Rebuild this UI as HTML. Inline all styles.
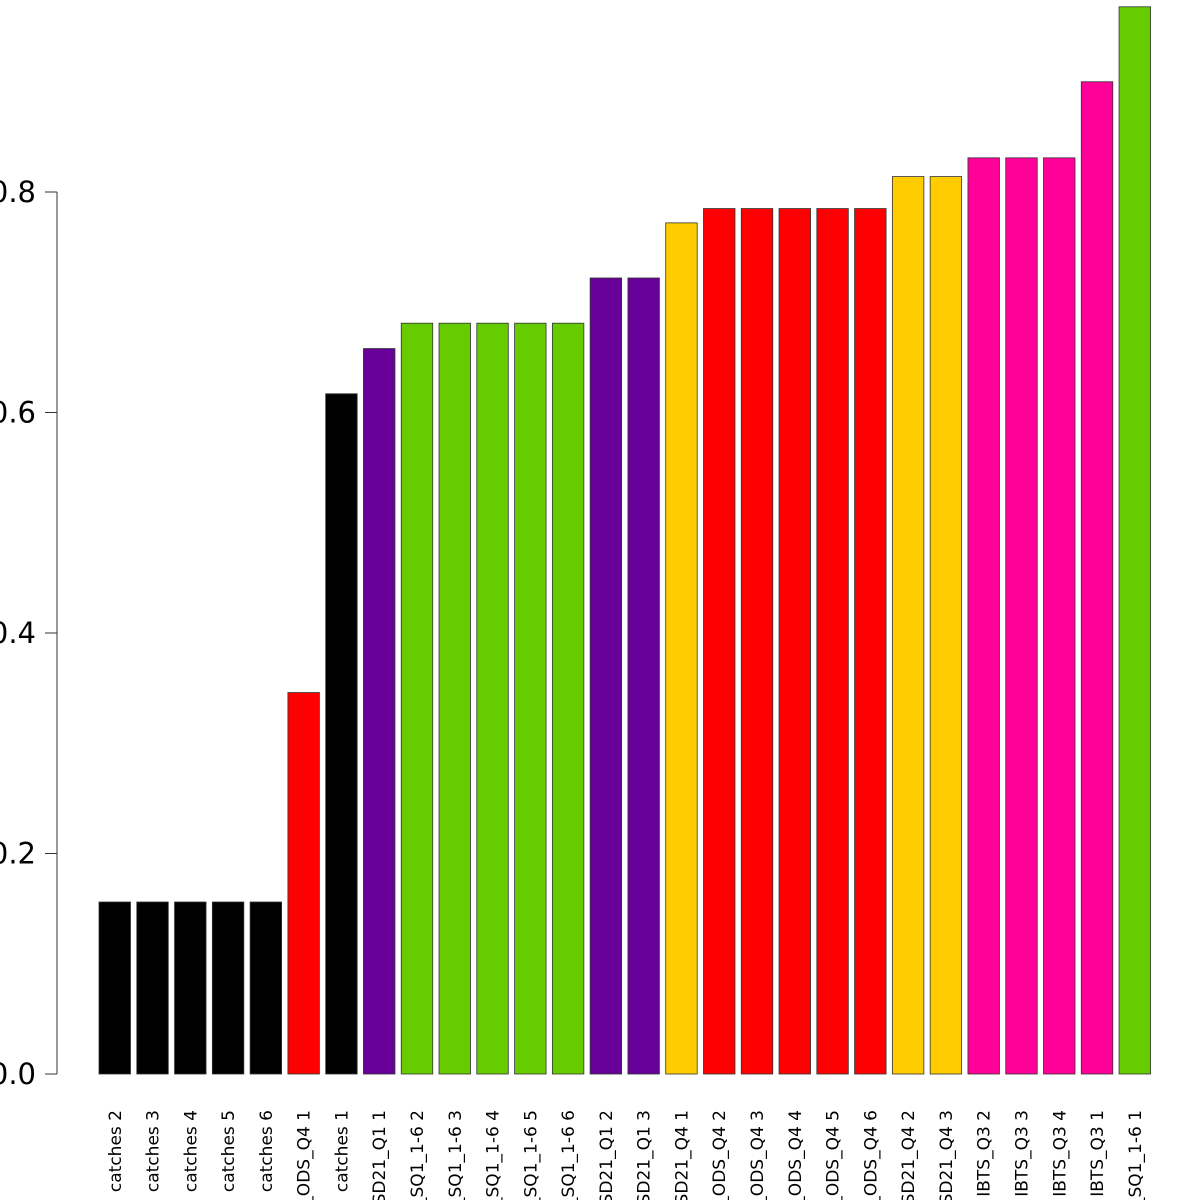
<!DOCTYPE html>
<html><head><meta charset="utf-8"><style>
html,body{margin:0;padding:0;background:#fff;}
svg{display:block;font-family:"DejaVu Sans","Liberation Sans",sans-serif;}
</style></head><body>
<svg id="chart" width="1200" height="1200" viewBox="0 0 1200 1200" xmlns="http://www.w3.org/2000/svg">
<g id="bars"></g>
<g id="yaxis"></g>
<g id="xlabels"></g>
</svg>
<script>
const categories = ["catches 2","catches 3","catches 4","catches 5","catches 6","BITS_ODS_Q4 1","catches 1","BITS_SD21_Q1 1","IBTS_SQ1_1-6 2","IBTS_SQ1_1-6 3","IBTS_SQ1_1-6 4","IBTS_SQ1_1-6 5","IBTS_SQ1_1-6 6","BITS_SD21_Q1 2","BITS_SD21_Q1 3","BITS_SD21_Q4 1","BITS_ODS_Q4 2","BITS_ODS_Q4 3","BITS_ODS_Q4 4","BITS_ODS_Q4 5","BITS_ODS_Q4 6","BITS_SD21_Q4 2","BITS_SD21_Q4 3","IBTS_Q3 2","IBTS_Q3 3","IBTS_Q3 4","IBTS_Q3 1","IBTS_SQ1_1-6 1"];
const values = [0.156,0.156,0.156,0.156,0.156,0.346,0.617,0.658,0.681,0.681,0.681,0.681,0.681,0.722,0.722,0.772,0.785,0.785,0.785,0.785,0.785,0.814,0.814,0.831,0.831,0.831,0.900,0.968];
const colors = ["#000000","#000000","#000000","#000000","#000000","#FF0000","#000000","#660099","#66CC00","#66CC00","#66CC00","#66CC00","#66CC00","#660099","#660099","#FFCC00","#FF0000","#FF0000","#FF0000","#FF0000","#FF0000","#FFCC00","#FFCC00","#FF0099","#FF0099","#FF0099","#FF0099","#66CC00"];
const yTicks = [0,0.2,0.4,0.6,0.8];
const yTickLabels = ["0.0","0.2","0.4","0.6","0.8"];

const NS="http://www.w3.org/2000/svg";
const y0=1074, pxPerUnit=1102.5;
function yScale(v){return y0-v*pxPerUnit;}
const step=37.78, bw=31.5, x0=99;
function xScale(i){return x0+i*step;}
function mk(tag,attrs){const e=document.createElementNS(NS,tag);for(const k in attrs)e.setAttribute(k,attrs[k]);return e;}

const gb=document.getElementById('bars');
values.forEach((v,i)=>{
  const r=mk('rect',{x:xScale(i),y:yScale(v),width:bw,height:y0-yScale(v),fill:colors[i],stroke:"#333","stroke-width":0.8});
  
  
  gb.appendChild(r);
});

const gy=document.getElementById('yaxis');
const axl=mk('line',{x1:57,x2:57,y1:yScale(yTicks[yTicks.length-1]),y2:yScale(yTicks[0]),stroke:"#333","stroke-width":1});


gy.appendChild(axl);
yTicks.forEach((t,i)=>{
  const tk=mk('line',{x1:45,x2:57,y1:yScale(t),y2:yScale(t),stroke:"#333","stroke-width":1});
  
  
  gy.appendChild(tk);
  const tx=mk('text',{x:36,y:yScale(t)+10,"text-anchor":"end","font-size":29,fill:"#000"});
  tx.textContent=yTickLabels[i];
  
  
  gy.appendChild(tx);
});

const gx=document.getElementById('xlabels');
categories.forEach((c,i)=>{
  const cx=xScale(i)+bw/2+6;
  const tx=mk('text',{x:cx,y:1110,"text-anchor":"end","font-size":17,fill:"#000",transform:"rotate(-90 "+cx+" 1110)"});
  tx.textContent=c;
  
  
  gx.appendChild(tx);
});
</script>
</body></html>
